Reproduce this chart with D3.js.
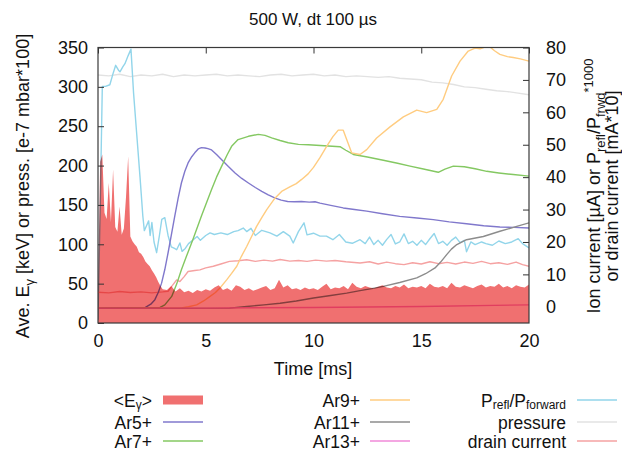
<!DOCTYPE html>
<html><head><meta charset="utf-8">
<script src="https://cdn.jsdelivr.net/npm/d3@7"></script>
<style>
body{margin:0;background:#fff}
svg text{font-family:"Liberation Sans",Arial,Helvetica,sans-serif;fill:#111}
</style></head><body>
<svg id="c" width="622" height="450"></svg>
<script>
// ---------- DATA (time in ms) ----------
const xTicks = [0, 5, 10, 15, 20];
const leftTicks = [0, 50, 100, 150, 200, 250, 300, 350];
const rightTicks = [0, 10, 20, 30, 40, 50, 60, 70, 80];

// <E_gamma> (left axis, keV)
const eGamma = [[0,40],[0.1,205],[0.2,214],[0.3,140],[0.4,132],[0.5,178],[0.6,128],[0.7,195],[0.8,122],[0.9,116],
[1.0,148],[1.1,112],[1.2,120],[1.3,160],[1.4,212],[1.5,110],[1.6,104],[1.7,100],[1.8,97],[1.9,90],
[2.0,88],[2.1,84],[2.2,78],[2.3,75],[2.4,72],[2.5,67],[2.6,63],[2.7,58],[2.8,52],[2.9,47],[3.0,43],
[3.2,42],[3.4,47],[3.6,40],[3.8,44],[4.0,39],[4.2,41],[4.4,38],[4.6,42],[4.8,40],[5.0,43],[5.2,41],[5.4,45],
[5.6,48],[5.8,42],[6.0,44],[6.2,41],[6.4,48],[6.6,46],[6.8,42],[7.0,44],[7.2,41],[7.4,43],[7.6,45],[7.8,47],
[8.0,42],[8.2,44],[8.4,55],[8.6,45],[8.8,48],[9.0,43],[9.2,44],[9.4,42],[9.6,45],[9.8,43],[10.0,44],[10.2,42],
[10.4,46],[10.6,50],[10.8,43],[11.0,45],[11.2,44],[11.4,47],[11.6,43],[11.8,51],[12.0,46],[12.2,44],[12.4,47],
[12.6,45],[12.8,44],[13.0,46],[13.2,48],[13.4,45],[13.6,44],[13.8,47],[14.0,45],[14.2,49],[14.4,44],[14.6,46],
[14.8,45],[15.0,47],[15.2,44],[15.4,50],[15.6,46],[15.8,45],[16.0,47],[16.2,44],[16.4,51],[16.6,46],[16.8,45],
[17.0,48],[17.2,46],[17.4,44],[17.6,47],[17.8,49],[18.0,45],[18.2,47],[18.4,46],[18.6,50],[18.8,45],[19.0,47],
[19.2,44],[19.4,48],[19.6,46],[19.8,45],[20.0,49]];

// pressure (left axis, e-7 mbar*100)
const pressure = [[0,315],[0.5,314],[1,316],[1.5,313],[2,315],[2.5,314],[3,316],[3.5,313],[4,315],[4.5,314],
[5,315],[5.5,316],[6,314],[6.5,315],[7,314],[7.5,313],[8,315],[8.5,316],[9,314],[9.5,315],[10,316],[10.5,314],
[11,315],[11.5,313],[12,314],[12.5,313],[13,312],[13.5,313],[14,311],[14.5,310],[15,309],[15.5,306],[16,305],
[16.5,303],[17,300],[17.5,299],[18,297],[18.5,295],[19,294],[19.5,292],[20,290]];

// P_refl/P_forward *1000 (right axis)
const pRefl = [[0,-4],[0.1,30],[0.2,68],[0.35,68],[0.55,68.5],[0.7,72],[0.82,74.5],[0.95,73],[1.02,72.5],[1.15,74],
[1.25,75],[1.4,77.5],[1.53,79.5],[1.65,66],[1.8,53],[1.95,40],[2.08,28],[2.15,23.5],[2.25,25],[2.35,26.5],[2.42,22],
[2.5,26],[2.6,20],[2.72,16.7],[2.85,22],[2.96,27],[3.1,27.5],[3.25,22],[3.4,18.5],[3.55,18],[3.65,17.6],[3.8,19.7],
[3.9,17.1],[4.05,18],[4.2,19.5],[4.42,20.7],[4.6,21.7],[4.75,20.5],[5.0,22],[5.2,22.8],[5.4,22.3],[5.7,22.8],
[6.0,22.3],[6.3,23.2],[6.5,23.5],[6.74,24.3],[6.9,23.2],[7.1,24.2],[7.3,22],[7.6,23.6],[7.98,22.8],[8.3,21.8],
[8.6,23.2],[8.9,21.8],[9.06,19.7],[9.3,23.2],[9.56,25.9],[9.7,22.2],[10.0,22.7],[10.3,21.8],[10.6,21.8],[10.9,20.7],
[11.2,22.3],[11.5,20.0],[11.8,19.6],[12.16,20.7],[12.4,19.5],[12.6,21.5],[12.8,19.2],[13.0,20.5],[13.2,19.0],
[13.4,20.8],[13.6,22.3],[13.8,19.4],[14.0,20.0],[14.2,22.5],[14.4,19.5],[14.6,20.2],[14.8,19.0],[15.0,20.5],
[15.2,19.2],[15.4,21.0],[15.6,22.6],[15.8,19.5],[16.0,20.2],[16.2,19.0],[16.4,20.5],[16.6,21.5],[16.8,19.8],
[17.0,20.5],[17.1,17.0],[17.3,20.0],[17.5,19.2],[17.8,20.0],[18.0,19.5],[18.3,19.0],[18.6,20.3],[18.9,19.5],
[19.2,20.0],[19.5,21.0],[19.7,19.5],[20.0,18.2]];

// drain current [mA*10] (right axis)
const drain = [[0,4.5],[0.5,4.3],[1.0,4.7],[1.5,4.4],[2.0,4.6],[2.5,4.3],[3.0,4.6],[3.25,4.8],[3.42,6.3],[3.65,8.3],
[3.8,7.8],[4.0,9.3],[4.18,10.9],[4.49,11.2],[4.73,11.4],[5.0,12],[5.35,12.5],[5.7,13.2],[6.1,14],[6.5,14.2],[6.9,14.5],
[7.3,14.0],[7.7,14.4],[8.1,14.1],[8.45,14.6],[8.9,14.1],[9.3,14.3],[9.7,14.0],[10.1,14.4],[10.6,14.1],[11.0,14.3],
[11.5,13.9],[12.16,13.5],[12.6,13.9],[13.0,13.2],[13.4,13.8],[13.8,13.3],[14.2,13.0],[14.6,13.6],[15.0,13.2],
[15.4,13.9],[15.8,13.3],[16.2,13.7],[16.6,13.2],[17.0,13.8],[17.4,13.4],[17.8,14.0],[18.2,13.3],[18.6,13.6],
[19.0,13.1],[19.4,13.8],[19.7,13.0],[20.0,12.5]];

// ion currents [uA] (right axis)
const ar5 = [[0,-0.4],[1,-0.3],[2.0,-0.4],[2.2,-0.2],[2.45,0.8],[2.64,2.2],[2.8,4.5],[2.95,7.3],[3.1,11.5],[3.25,16.6],
[3.4,22],[3.56,27.9],[3.72,33.5],[3.87,38.2],[4.03,41.8],[4.18,44.4],[4.35,46.3],[4.49,47.5],[4.65,48.7],[4.8,49.1],
[4.97,49],[5.1,48.8],[5.27,48.4],[5.5,47],[5.74,45.4],[6.05,43.3],[6.36,41.3],[6.67,39.6],[6.98,38.2],[7.3,36.8],
[7.6,35.6],[7.9,34.5],[8.2,33.6],[8.5,32.9],[8.8,32.5],[9.1,32.4],[9.44,32.5],[9.8,32.3],[10.07,32.4],[10.3,32],
[10.8,31.3],[11.38,30.5],[11.9,30.0],[12.47,29.5],[13.2,28.7],[14.0,27.9],[14.8,27.4],[15.56,26.9],[16.3,26.2],
[17.1,25.6],[17.9,25.0],[18.65,24.6],[19.3,24.5],[20.0,24.3]];
const ar7 = [[0,-0.4],[2.0,-0.3],[2.88,-0.2],[3.1,0.6],[3.42,3.2],[3.65,7],[3.87,11.4],[4.1,15.5],[4.4,20.7],[4.8,28],
[5.27,36.2],[5.5,40],[5.74,43.4],[6.0,47],[6.2,49.5],[6.5,51.6],[6.98,52.6],[7.44,53.2],[7.75,52.9],[8.06,52.1],
[8.45,51.3],[8.83,50.6],[9.3,50.1],[9.76,50],[10.5,49.7],[11.23,49.4],[11.5,48.3],[11.85,47],[12.5,46.2],[13.24,45.2],
[13.9,44.3],[14.48,43.4],[15.1,42.5],[15.79,41.5],[16.1,42.5],[16.49,43.4],[17.0,43.2],[17.5,42.6],[18.04,41.8],
[18.6,41.3],[19.27,40.8],[20.0,40.3]];
const ar9 = [[0,-0.4],[2.5,-0.4],[3.8,-0.4],[4.2,0],[4.58,0.6],[4.9,1.8],[5.2,3.2],[5.45,4.4],[5.66,5.8],[5.97,8.3],
[6.2,10.3],[6.44,12.5],[6.65,15.5],[6.9,18.6],[7.15,22],[7.36,24.8],[7.6,27.5],[7.83,30],[8.21,33.5],[8.52,35.6],
[8.9,37],[9.2,38],[9.45,39.3],[9.75,41],[10.0,43],[10.3,46],[10.61,49.5],[10.9,52.5],[11.15,54.5],[11.38,54.5],
[11.54,51.6],[11.77,47.5],[12.16,47],[12.47,48.5],[12.93,52.1],[13.55,55.5],[14.17,58.6],[14.79,60.7],[15.25,59.9],
[15.72,60.9],[16.02,64],[16.41,71.2],[16.8,75.8],[17.18,78.9],[17.5,79.8],[17.73,79.6],[17.95,80.1],[18.19,80.2],
[18.4,79],[18.65,77.9],[19.0,77.2],[19.27,76.9],[19.6,76.5],[20.0,75.8]];
const ar11 = [[0,-0.5],[3,-0.5],[6.1,-0.4],[6.9,0.1],[7.7,0.6],[8.45,1.1],[9.2,1.8],[10.0,2.7],[10.8,3.5],[11.54,4.2],
[12.16,5.0],[12.7,5.6],[13.24,6.3],[14.0,7.5],[14.79,8.9],[15.2,10.2],[15.64,12],[15.9,13.8],[16.18,16.1],[16.4,17.8],
[16.65,19.2],[17.1,20.7],[17.88,21.7],[18.65,23.3],[19.43,24.8],[20.0,25.9]];
const ar13 = [[0,-0.4],[5,-0.4],[10,-0.2],[15,0.1],[20,0.6]];

// ---------- CHART ----------
const svg = d3.select("#c");
const L = 98, R = 529, T = 47.5, B = 323;
const x = d3.scaleLinear().domain([0, 20]).range([L, R]);
const yL = d3.scaleLinear().domain([0, 350]).range([B, T]);
const yR = d3.scaleLinear().domain([-5, 80]).range([B, T]);

const lineL = d3.line().x(d => x(d[0])).y(d => yL(d[1]));
const lineR = d3.line().x(d => x(d[0])).y(d => yR(d[1]));

const lines = [
  {data: pressure, f: lineL, color: "#e2e2e2"},
  {data: pRefl, f: lineR, color: "#92d5ea"},
  {data: drain, f: lineR, color: "#f5a2a2"},
  {data: ar5, f: lineR, color: "#8078cc"},
  {data: ar7, f: lineR, color: "#84c862"},
  {data: ar9, f: lineR, color: "#ffcc80"},
  {data: ar11, f: lineR, color: "#8c8c8c"},
  {data: ar13, f: lineR, color: "#f08ad8"}
];

svg.append("clipPath").attr("id", "pc").append("rect")
  .attr("x", L).attr("y", T).attr("width", R - L).attr("height", B - T);
const plot = svg.append("g").attr("clip-path", "url(#pc)");

plot.selectAll("path.ln").data(lines).join("path").attr("class", "ln")
  .attr("d", d => d.f(d.data)).attr("fill", "none")
  .attr("stroke", d => d.color).attr("stroke-width", 1.4).attr("stroke-linejoin", "round");

const area = d3.area().x(d => x(d[0])).y0(yL(0)).y1(d => yL(d[1]));
plot.append("path").attr("d", area(eGamma)).attr("fill", "#f07070")
  .style("mix-blend-mode", "multiply");

// axes
const fs = "18px";
const gl = svg.append("g").attr("transform", `translate(${L},0)`)
  .call(d3.axisLeft(yL).tickValues(leftTicks).tickSize(-6).tickPadding(10));
const gr = svg.append("g").attr("transform", `translate(${R},0)`)
  .call(d3.axisRight(yR).tickValues(rightTicks).tickSize(-6).tickPadding(17));
const gt = svg.append("g").attr("transform", `translate(0,${T})`)
  .call(d3.axisTop(x).tickValues(xTicks).tickSize(-6).tickFormat(""));
const gb = svg.append("g").attr("transform", `translate(0,${B})`)
  .call(d3.axisBottom(x).tickValues(xTicks).tickSize(0).tickPadding(11));
[gl, gr, gt, gb].forEach(g => {
  g.select(".domain").remove();
  g.selectAll("line").attr("stroke", "#333");
  g.selectAll("text").attr("font-size", fs).attr("fill", "#111")
    .attr("font-family", '"Liberation Sans",Arial,sans-serif');
});
gr.selectAll(".tick").filter(d => d === 0).select("line").remove();

svg.append("rect").attr("x", L).attr("y", T).attr("width", R - L).attr("height", B - T)
  .attr("fill", "none").attr("stroke", "#3a3a3a").attr("stroke-width", 1.2);

// titles
svg.append("text").attr("x", 313).attr("y", 25).attr("text-anchor", "middle")
  .attr("font-size", "17px").text("500 W, dt 100 \u00b5s");
svg.append("text").attr("x", 313).attr("y", 375).attr("text-anchor", "middle")
  .attr("font-size", fs).text("Time [ms]");

const lt = svg.append("text").attr("transform", "translate(29,186) rotate(-90)")
  .attr("text-anchor", "middle").attr("font-size", fs);
lt.append("tspan").text("Ave. E");
lt.append("tspan").attr("font-size", "13px").attr("dy", 5).text("\u03b3");
lt.append("tspan").attr("dy", -5).text(" [keV] or press. [e-7 mbar*100]");

const rt = svg.append("text").attr("transform", "translate(600,186) rotate(-90)")
  .attr("text-anchor", "middle").attr("font-size", fs);
rt.append("tspan").text("Ion current [\u00b5A] or P");
rt.append("tspan").attr("font-size", "13px").attr("dy", 5).text("refl");
rt.append("tspan").attr("dy", -5).text("/P");
rt.append("tspan").attr("font-size", "13px").attr("dy", 5).text("frwd");
rt.append("tspan").attr("font-size", "13px").attr("dy", -12).text("*1000");
svg.append("text").attr("transform", "translate(618,186) rotate(-90)")
  .attr("text-anchor", "middle").attr("font-size", fs).text("or drain current [mA*10]");

// legend
const legend = [
  {col: 0, row: 0, parts: [["<E", 0], ["\u03b3", 1], [">", 0]], color: "#f07070", box: true},
  {col: 0, row: 1, parts: [["Ar5+", 0]], color: "#8078cc"},
  {col: 0, row: 2, parts: [["Ar7+", 0]], color: "#84c862"},
  {col: 1, row: 0, parts: [["Ar9+", 0]], color: "#ffcc80"},
  {col: 1, row: 1, parts: [["Ar11+", 0]], color: "#8c8c8c"},
  {col: 1, row: 2, parts: [["Ar13+", 0]], color: "#f08ad8"},
  {col: 2, row: 0, parts: [["P", 0], ["refl", 1], ["/P", 0], ["forward", 1]], color: "#92d5ea"},
  {col: 2, row: 1, parts: [["pressure", 0]], color: "#e2e2e2"},
  {col: 2, row: 2, parts: [["drain current", 0]], color: "#f5a2a2"}
];
const colTextX = [152, 360, 566], colLineX = [163, 370, 577], rowY = [400, 422, 441];
legend.forEach(e => {
  const cy = rowY[e.row];
  const t = svg.append("text").attr("x", colTextX[e.col]).attr("y", cy + 6.5)
    .attr("text-anchor", "end").attr("font-size", "17.5px");
  let sub = 0;
  e.parts.forEach(p => {
    const ts = t.append("tspan").text(p[0]);
    if (p[1] && !sub) { ts.attr("font-size", "12px").attr("dy", 2.5); sub = 1; }
    else if (!p[1] && sub) { ts.attr("dy", -2.5); sub = 0; }
    else if (p[1]) ts.attr("font-size", "12px");
  });
  if (e.box) {
    svg.append("rect").attr("x", colLineX[e.col]).attr("y", cy - 4.5).attr("width", 40).attr("height", 9)
      .attr("fill", e.color);
  } else {
    svg.append("line").attr("x1", colLineX[e.col]).attr("x2", colLineX[e.col] + 40)
      .attr("y1", cy).attr("y2", cy).attr("stroke", e.color).attr("stroke-width", 1.6);
  }
});
</script>
</body></html>
